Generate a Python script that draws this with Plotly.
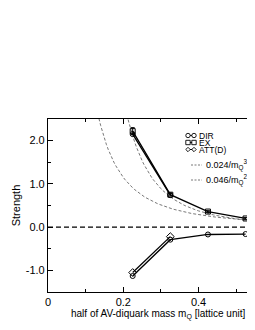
import plotly.graph_objects as go

# ---- data ----
mq = [0.225, 0.325, 0.425, 0.525]
dir_vals = [-1.13, -0.29, -0.17, -0.16]
ex_vals = [2.22, 0.75, 0.36, 0.20]
ex_err = [0.08, 0.03, 0.02, 0.02]
att_x = [0.225, 0.325]
att_vals = [-1.05, -0.22]
att_up_vals = [2.15, 0.74]
fit_coef3 = 0.024
fit_coef2 = 0.046
curve_x = [0.12 + 0.005 * i for i in range(87)]
curve3 = [fit_coef3 / m ** 3 for m in curve_x]
curve2 = [fit_coef2 / m ** 2 for m in curve_x]
xticks = [0, 0.2, 0.4]
xtick_text = ["0", "0.2", "0.4"]
yticks = [-1.0, 0.0, 1.0, 2.0]
ytick_text = ["-1.0", "0.0", "1.0", "2.0"]

FONT = "Liberation Sans, Arial, sans-serif"

# page body has an 8px margin: figure pixel = window pixel - 8
L, T, W, H = 40, 111, 207, 173  # plot area in figure pixels

fig = go.Figure()
fig.add_trace(go.Scatter(x=curve_x, y=curve3, mode="lines",
                         line=dict(color="#555", width=0.8, dash="3px,2px"), showlegend=False))
fig.add_trace(go.Scatter(x=curve_x, y=curve2, mode="lines",
                         line=dict(color="#555", width=0.8, dash="3px,2px"), showlegend=False))
fig.add_trace(go.Scatter(x=mq, y=ex_vals, mode="lines+markers",
                         error_y=dict(type="data", array=ex_err, color="black", width=2, thickness=1),
                         line=dict(color="black", width=1.3),
                         marker=dict(symbol="square-open", size=5, color="black", line=dict(width=1)),
                         showlegend=False))
fig.add_trace(go.Scatter(x=att_x, y=att_up_vals, mode="lines+markers",
                         line=dict(color="black", width=1.3),
                         marker=dict(symbol="circle-open", size=5, color="black", line=dict(width=1)),
                         showlegend=False))
fig.add_trace(go.Scatter(x=mq, y=dir_vals, mode="lines+markers",
                         line=dict(color="black", width=1.3),
                         marker=dict(symbol="circle-open", size=5, color="black", line=dict(width=1)),
                         showlegend=False))
fig.add_trace(go.Scatter(x=att_x, y=att_vals, mode="lines+markers",
                         line=dict(color="black", width=1.3),
                         marker=dict(symbol="diamond-open", size=6, color="black", line=dict(width=1)),
                         showlegend=False))

# zero line
fig.add_shape(type="line", xref="paper", x0=0, x1=1, yref="y", y0=0, y1=0,
              line=dict(color="black", width=1.2, dash="5px,3px"))

# ---- manual legend (positions given in window pixels) ----
def px2x(px):
    return (px - 8 - L) / float(W)

def py2y(py):
    return (T + H - (py - 8)) / float(H)

rows = [("DIR", "circle", 135.5), ("EX", "square", 142.5), ("ATT(D)", "diamond", 149.5)]
for label, sym, py in rows:
    y = py2y(py)
    fig.add_shape(type="line", xref="paper", yref="paper", x0=px2x(188), x1=px2x(194), y0=y, y1=y,
                  line=dict(color="black", width=1))
    for cx in (188, 194):
        r = 2.2
        if sym == "circle":
            fig.add_shape(type="circle", xref="paper", yref="paper",
                          x0=px2x(cx - r), x1=px2x(cx + r), y0=py2y(py + r), y1=py2y(py - r),
                          line=dict(color="black", width=0.9), fillcolor="white")
        elif sym == "square":
            fig.add_shape(type="rect", xref="paper", yref="paper",
                          x0=px2x(cx - r), x1=px2x(cx + r), y0=py2y(py + r), y1=py2y(py - r),
                          line=dict(color="black", width=0.9), fillcolor="white")
        else:
            path = "M {a},{b} L {c},{d} L {e},{f} L {g},{h} Z".format(
                a=px2x(cx - r), b=py2y(py), c=px2x(cx), d=py2y(py - r),
                e=px2x(cx + r), f=py2y(py), g=px2x(cx), h=py2y(py + r))
            fig.add_shape(type="path", xref="paper", yref="paper", path=path,
                          line=dict(color="black", width=0.9), fillcolor="white")
    fig.add_annotation(x=px2x(197), y=y, xref="paper", yref="paper", text=label,
                       showarrow=False, xanchor="left", yanchor="middle",
                       font=dict(family=FONT, size=8.5, color="black"))

for label, py in [("0.024/m<sub>Q</sub><sup>3</sup>", 165), ("0.046/m<sub>Q</sub><sup>2</sup>", 180)]:
    y = py2y(py)
    fig.add_shape(type="line", xref="paper", yref="paper", x0=px2x(191), x1=px2x(202), y0=y, y1=y,
                  line=dict(color="#555", width=0.8, dash="2px,1.5px"))
    fig.add_annotation(x=px2x(204), y=y, xref="paper", yref="paper", text=label,
                       showarrow=False, xanchor="left", yanchor="middle",
                       font=dict(family=FONT, size=9, color="black"))

# x-axis title as annotation (centred where the reference puts it)
fig.add_annotation(x=px2x(158), y=py2y(314), xref="paper", yref="paper",
                   text="half of AV-diquark mass m<sub>Q</sub> [lattice unit]",
                   showarrow=False, xanchor="center", yanchor="middle",
                   font=dict(family=FONT, size=10, color="black"))

fig.update_layout(
    width=L + W, height=322,
    margin=dict(l=L, r=0, t=T, b=322 - T - H),
    paper_bgcolor="white", plot_bgcolor="white",
    font=dict(family=FONT, size=11, color="black"),
    showlegend=False,
)
fig.update_xaxes(range=[0, 0.55], tickvals=xticks, ticktext=xtick_text,
                 ticks="inside", ticklen=5, tickwidth=1, tickcolor="black",
                 minor=dict(tickvals=[0.1, 0.3, 0.5], ticks="inside", ticklen=3, tickcolor="black"),
                 showline=True, linecolor="black", linewidth=1.2, mirror="ticks",
                 showgrid=False, zeroline=False,
                 tickfont=dict(size=11))
fig.update_yaxes(range=[-1.5, 2.5], tickvals=yticks, ticktext=ytick_text,
                 ticks="inside", ticklen=5, tickwidth=1, tickcolor="black",
                 minor=dict(tickvals=[-0.5, 0.5, 1.5], ticks="inside", ticklen=3, tickcolor="black"),
                 showline=True, linecolor="black", linewidth=1.2, mirror="ticks",
                 showgrid=False, zeroline=False,
                 tickfont=dict(size=11),
                 title=dict(text="Strength", font=dict(size=11), standoff=2))

fig.write_html("out.html")
